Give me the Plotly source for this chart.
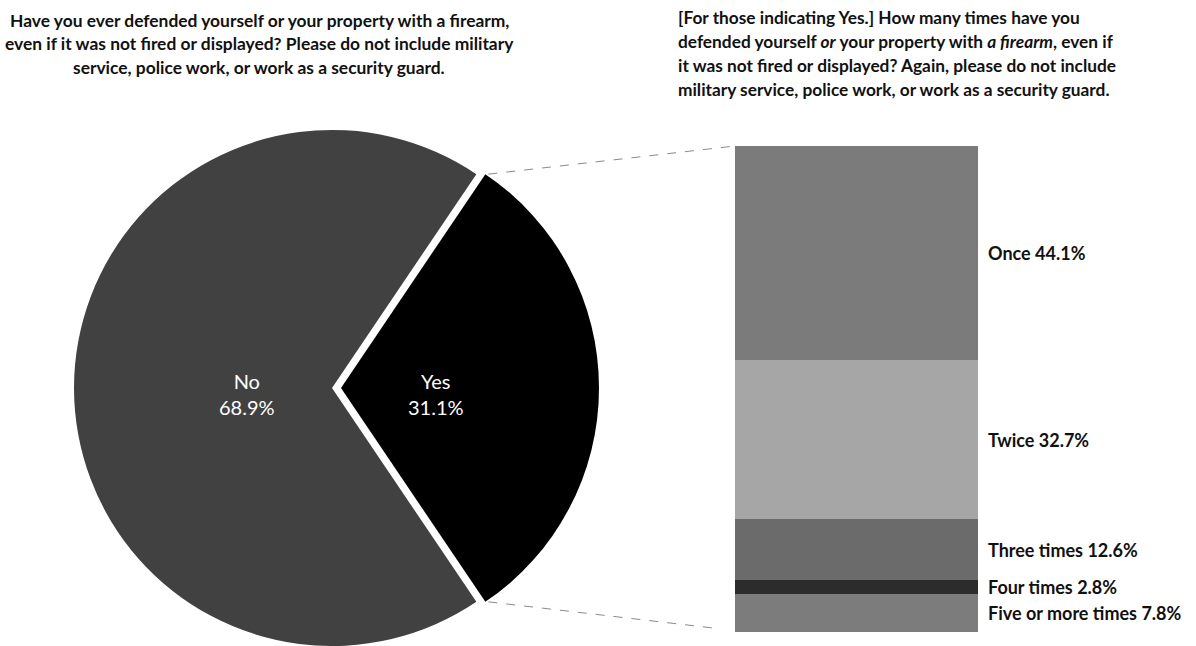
import math
import plotly.graph_objects as go

# ---- data ----
pie_labels = ["No", "Yes"]
pie_values = [68.9, 31.1]
bar_labels = ["Once", "Twice", "Three times", "Four times", "Five or more times"]
bar_values = [44.1, 32.7, 12.6, 2.8, 7.8]

title_left_lines = [
    "Have you ever defended yourself or your property with a firearm,",
    "even if it was not fired or displayed? Please do not include military",
    "service, police work, or work as a security guard.",
]
title_right_lines = [
    "[For those indicating Yes.] How many times have you",
    "defended yourself <i>or</i> your property with <i>a firearm</i>, even if",
    "it was not fired or displayed? Again, please do not include",
    "military service, police work, or work as a security guard.",
]

# ---- style ----
W, H = 1196, 646
FONT = "Lato, 'Open Sans', sans-serif"
pie_colors = ["#414141", "#000000"]
bar_colors = ["#7b7b7b", "#a6a6a6", "#6b6b6b", "#2c2c2c", "#7c7c7c"]

R = 258          # pie radius px
CY = 388         # pie centre (px from top)
CX = [332, 341]  # centre of the "No" piece and of the exploded "Yes" piece
LABEL_R = [0.33, 0.37]
BAR_L, BAR_R, BAR_T, BAR_B = 735, 978, 146, 632

def px(x):
    return x / W

def py(y):
    return 1 - y / H

fig = go.Figure()

total = sum(pie_values)
yes_frac = pie_values[1] / total
start_no = 90 + yes_frac * 360 / 2  # so that "Yes" is centred at 3 o'clock

annotations = []
angle = start_no  # degrees clockwise from 12 o'clock
for i, cx in enumerate(CX):
    cols = ["rgba(0,0,0,0)"] * len(pie_values)
    cols[i] = pie_colors[i]
    fig.add_trace(go.Pie(
        labels=pie_labels, values=pie_values, sort=False,
        direction="clockwise", rotation=start_no,
        marker=dict(colors=cols, line=dict(width=0)),
        textinfo="none",
        domain=dict(x=[px(cx - R), px(cx + R)], y=[py(CY + R), py(CY - R)]),
        showlegend=False, hoverinfo="label+percent",
    ))
    span = pie_values[i] / total * 360
    mid = math.radians(angle + span / 2)
    lx = cx + LABEL_R[i] * R * math.sin(mid)
    ly = CY - LABEL_R[i] * R * math.cos(mid)
    annotations.append(dict(
        x=px(lx), y=py(ly + 6), xref="paper", yref="paper",
        xanchor="center", yanchor="middle", showarrow=False, align="center",
        text=f"{pie_labels[i]}<br>{pie_values[i] / total * 100:.1f}%",
        font=dict(family=FONT, size=20, color="white"),
    ))
    angle += span

# stacked bar (bottom first)
cum = 0
mids = []
for lab, val, col in zip(bar_labels[::-1], bar_values[::-1], bar_colors[::-1]):
    fig.add_trace(go.Bar(
        x=[0], y=[val], width=1, name=lab,
        marker=dict(color=col, line=dict(width=0)),
        xaxis="x", yaxis="y", showlegend=False,
    ))
    mids.append((lab, val, cum + val / 2))
    cum += val

for lab, val, mid in mids:
    annotations.append(dict(
        x=0.5, y=mid, xref="x", yref="y", xanchor="left", yanchor="middle",
        xshift=8, showarrow=False, text=f"<b>{lab} {val:.1f}%</b>",
        font=dict(family=FONT, size=18, color="#111111"),
    ))

LINE_H = 23.8
for k, line in enumerate(title_left_lines):
    annotations.append(dict(
        x=px(259), y=py(20 + k * LINE_H), xref="paper", yref="paper",
        xanchor="center", yanchor="middle", showarrow=False,
        text=f"<b>{line}</b>", font=dict(family=FONT, size=17.4, color="#111111"),
    ))
for k, line in enumerate(title_right_lines):
    annotations.append(dict(
        x=px(676), y=py(18 + k * LINE_H), xref="paper", yref="paper",
        xanchor="left", yanchor="middle", showarrow=False,
        text=f"<b>{line}</b>", font=dict(family=FONT, size=17.3, color="#111111"),
    ))

# connector lines from the Yes slice tips to the bar corners
a_top = math.radians(yes_frac * 360 / 2)  # angle above the horizontal
tip_top = (CX[1] + R * math.cos(a_top), CY - R * math.sin(a_top))
tip_bot = (CX[1] + R * math.cos(a_top), CY + R * math.sin(a_top))
shapes = [
    dict(type="line", xref="paper", yref="paper",
         x0=px(tip_top[0] + 3), y0=py(tip_top[1]), x1=px(BAR_L), y1=py(BAR_T),
         line=dict(color="#8a8a8a", width=1, dash="dash")),
    dict(type="line", xref="paper", yref="paper",
         x0=px(tip_bot[0] + 3), y0=py(tip_bot[1]), x1=px(BAR_L - 22), y1=py(BAR_B - 4),
         line=dict(color="#8a8a8a", width=1, dash="dash")),
]

fig.update_layout(
    width=W, height=H, margin=dict(l=0, r=0, t=0, b=0),
    paper_bgcolor="white", plot_bgcolor="white",
    barmode="stack", bargap=0,
    xaxis=dict(domain=[px(BAR_L), px(BAR_R)], range=[-0.5, 0.5], visible=False, fixedrange=True),
    yaxis=dict(domain=[py(BAR_B), py(BAR_T)], range=[0, total], visible=False, fixedrange=True),
    annotations=annotations, shapes=shapes,
    font=dict(family=FONT),
)

fig.write_html("out.html", config={"displayModeBar": False},
               post_script="document.body.style.margin='0';document.body.style.overflow='hidden';")
